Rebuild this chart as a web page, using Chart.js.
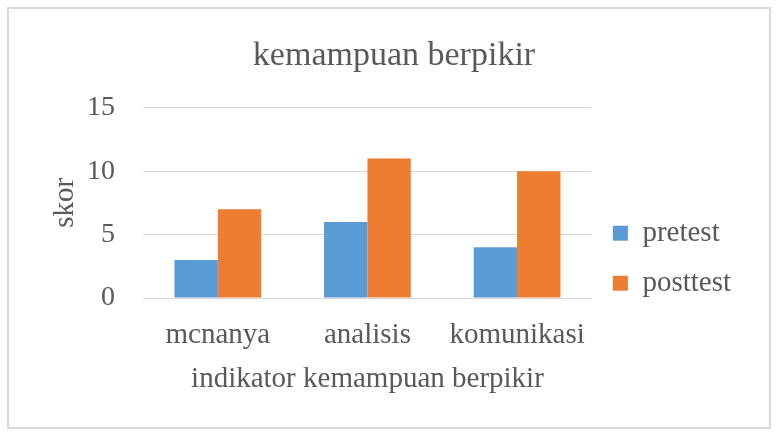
<!DOCTYPE html>
<html>
<head>
<meta charset="utf-8">
<script src="https://cdn.jsdelivr.net/npm/chart.js@4"></script>
<style>
    html, body { margin: 0; padding: 0; background: #fff; }
    #wrap { position: relative; width: 779px; height: 435px; }
</style>
</head>
<body>
<div id="wrap"><canvas id="barChart" width="779" height="435"></canvas></div>
<script>
    const categories = ['mcnanya', 'analisis', 'komunikasi'];
    const pretest = [3, 6, 4];
    const posttest = [7, 11, 10];
    const yTicks = [0, 5, 10, 15];

    const textColor = '#595959';
    const fontFamily = 'Liberation Serif';

    // рамка вокруг всего графика
    const frame = {
        id: 'frame',
        beforeDraw(chart) {
            const ctx = chart.ctx;
            ctx.save();
            ctx.fillStyle = '#fff';
            ctx.fillRect(0, 0, chart.width, chart.height);
            ctx.strokeStyle = '#d9d9d9';
            ctx.lineWidth = 2;
            ctx.strokeRect(8, 8, 762, 420);
            ctx.restore();
        }
    };

    const data = {
        labels: categories,
        datasets: [
            { label: 'pretest', data: pretest, backgroundColor: '#5b9bd5' },
            { label: 'posttest', data: posttest, backgroundColor: '#ed7d31' }
        ]
    };

    const config = {
        type: 'bar',
        data: data,
        plugins: [frame],
        options: {
            responsive: false,
            animation: false,
            layout: { padding: { left: 47, right: 38, top: 26, bottom: 37 } },
            datasets: { bar: { categoryPercentage: 0.58, barPercentage: 1.0 } },
            plugins: {
                title: {
                    display: true,
                    text: 'kemampuan berpikir',
                    color: textColor,
                    font: { family: fontFamily, size: 34, weight: 'normal' },
                    padding: { top: 10, bottom: 31 }
                },
                legend: {
                    position: 'right',
                    // пустой заголовок, чтобы сдвинуть легенду вниз
                    title: { display: true, text: ' ', font: { family: fontFamily, size: 12 }, padding: 39 },
                    labels: {
                        color: textColor,
                        font: { family: fontFamily, size: 29 },
                        boxWidth: 15,
                        boxHeight: 15,
                        padding: 21
                    }
                },
                tooltip: { enabled: false }
            },
            scales: {
                x: {
                    grid: { display: false },
                    border: { color: '#d9d9d9' },
                    ticks: { color: textColor, font: { family: fontFamily, size: 29, lineHeight: 1.0 }, padding: 15 },
                    title: {
                        display: true,
                        text: 'indikator kemampuan berpikir',
                        color: textColor,
                        font: { family: fontFamily, size: 29, lineHeight: 1.0 },
                        padding: { top: 0 }
                    }
                },
                y: {
                    min: 0,
                    max: 15,
                    afterBuildTicks(axis) { axis.ticks = yTicks.map(v => ({ value: v })); },
                    grid: { color: '#d9d9d9', tickColor: 'rgba(0,0,0,0)' },
                    border: { display: false },
                    ticks: { color: textColor, font: { family: fontFamily, size: 28 }, padding: 20 },
                    title: {
                        display: true,
                        text: 'skor',
                        color: textColor,
                        font: { family: fontFamily, size: 29, lineHeight: 1.0 },
                        padding: { top: 4, bottom: -13 }
                    }
                }
            }
        }
    };

    new Chart(document.getElementById('barChart').getContext('2d'), config);
</script>
</body>
</html>
